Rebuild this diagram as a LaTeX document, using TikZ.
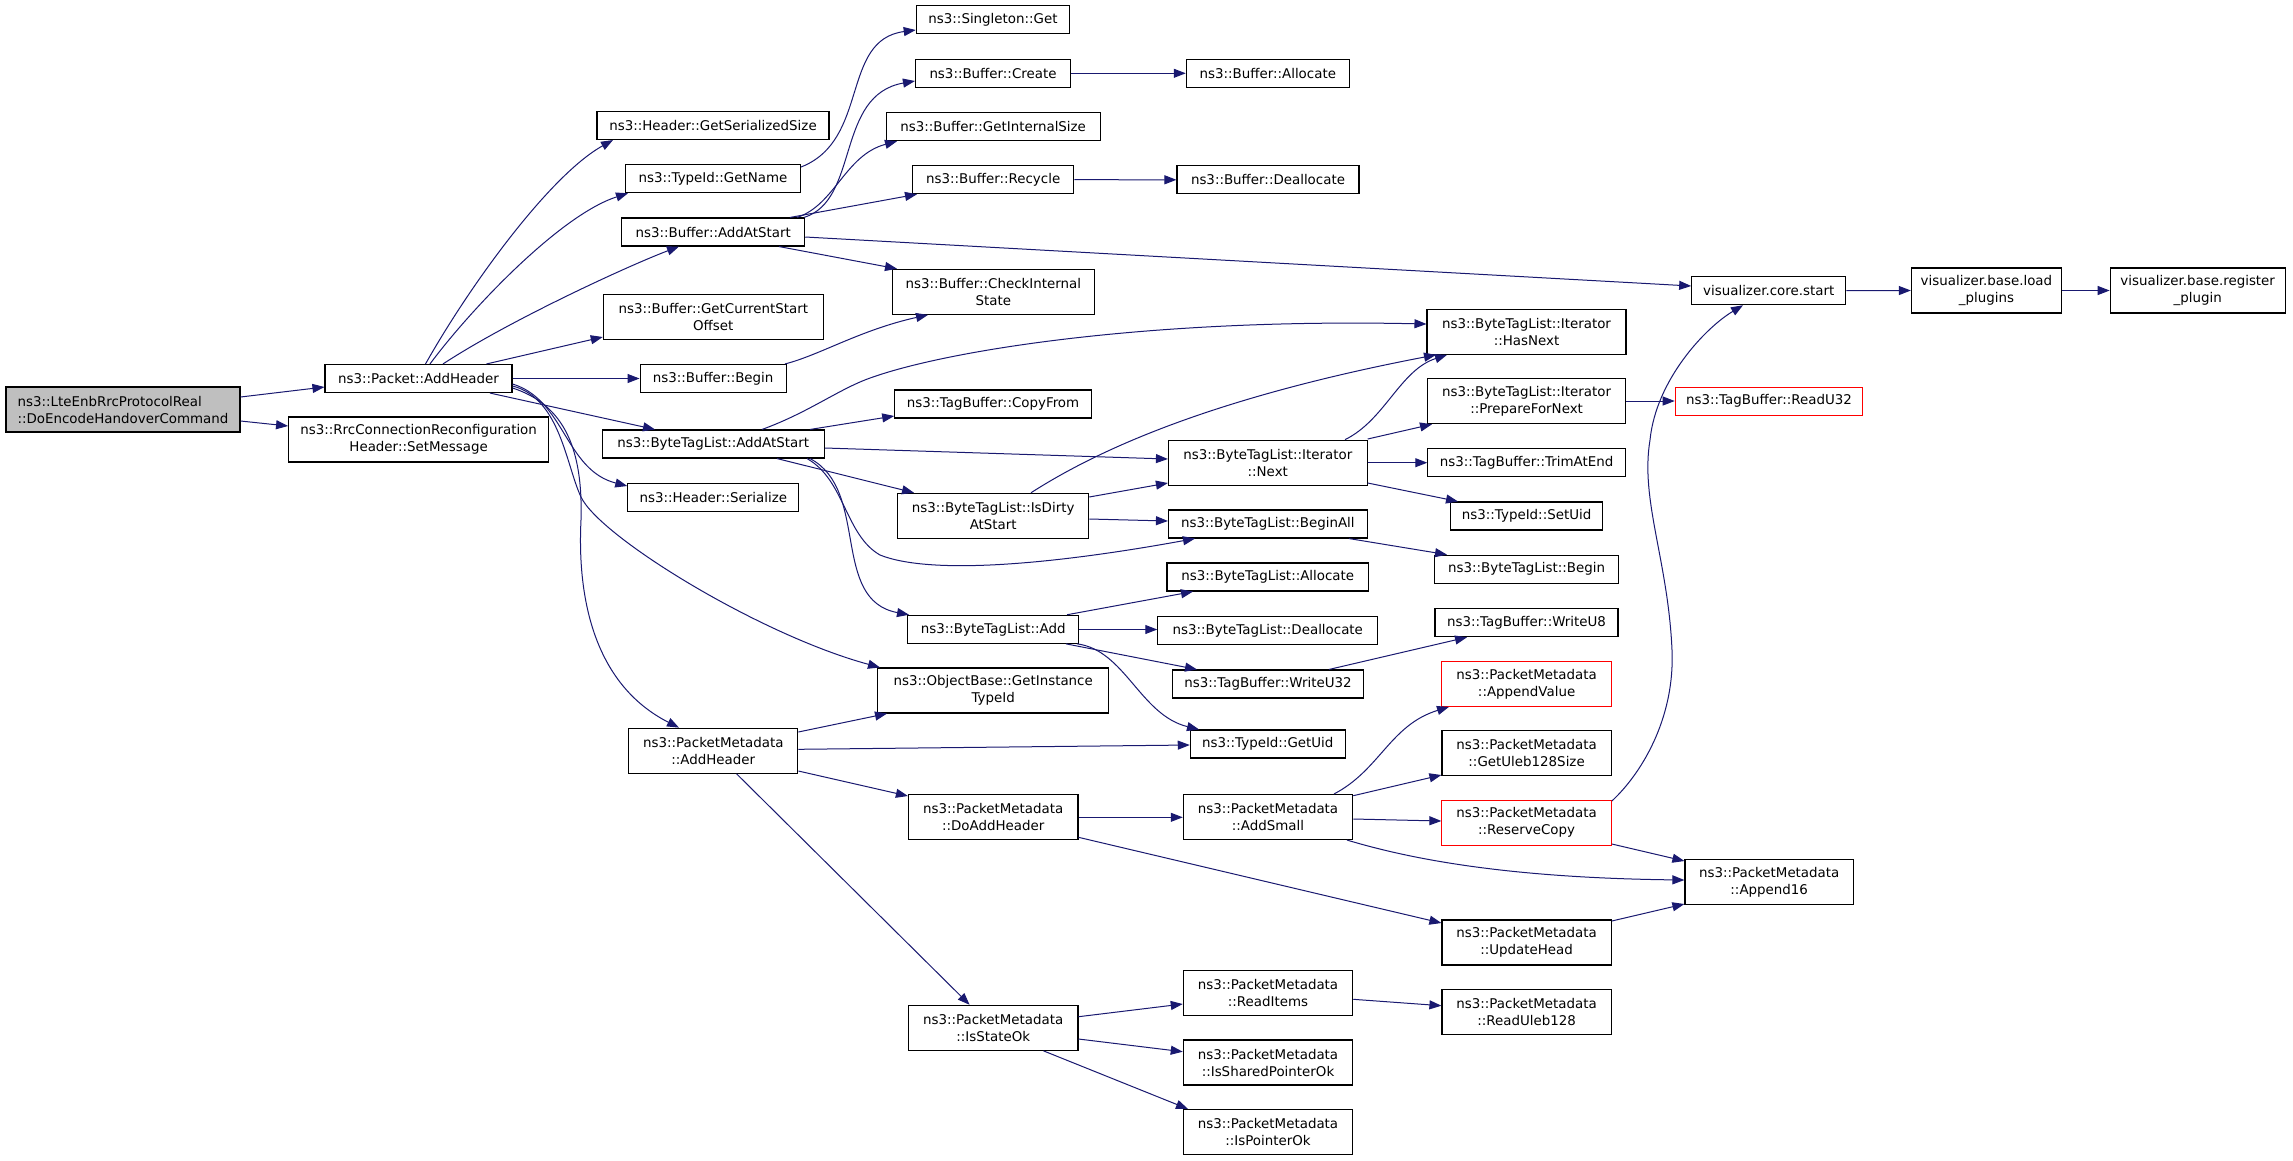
\documentclass[tikz,border=0pt]{standalone}
\usepackage{fontspec}
\setmainfont{DejaVu Sans}
\usetikzlibrary{arrows.meta}
\newcommand\gfs{\fontsize{13.4}{17}\selectfont}
\definecolor{edgeblue}{HTML}{191970}
\definecolor{maingray}{HTML}{BFBFBF}
\begin{document}
\begin{tikzpicture}[x=1pt,y=-1pt,
  box/.style={draw=black,line width=1.1pt,fill=white,inner sep=0pt,align=center,font=\gfs},
  redbox/.style={box,draw=red},
  sz/.style 2 args={minimum width=#1pt,minimum height=#2pt},
  edge/.style={draw=edgeblue,line width=1pt,-{Triangle[length=12pt,width=9pt]}}]
\fill[white] (0,0) rectangle (2293,1160);
\useasboundingbox (0,0) rectangle (2293,1160);
% column 1-2
\node[box,fill=maingray,align=left,sz={234}{45}] (main) at (123,409.5) {ns3::LteEnbRrcProtocolReal\\::DoEncodeHandoverCommand};
\node[box,sz={187}{28}] (pAH) at (418.5,378.5) {ns3::Packet::AddHeader};
\node[box,sz={260}{45}] (rrc) at (418.6,439.5) {ns3::RrcConnectionReconfiguration\\Header::SetMessage};
% column 3
\node[box,sz={232}{28}] (gss) at (713,125.5) {ns3::Header::GetSerializedSize};
\node[box,sz={175}{28}] (gn) at (713,178.7) {ns3::TypeId::GetName};
\node[box,sz={183}{28}] (baas) at (713.2,232) {ns3::Buffer::AddAtStart};
\node[box,sz={220}{45}] (gcso) at (713.3,317.3) {ns3::Buffer::GetCurrentStart\\Offset};
\node[box,sz={146}{28}] (bbeg) at (713.1,378.5) {ns3::Buffer::Begin};
\node[box,sz={222}{28}] (btaas) at (713.3,444) {ns3::ByteTagList::AddAtStart};
\node[box,sz={171}{28}] (hser) at (713.3,497.3) {ns3::Header::Serialize};
\node[box,sz={169}{45}] (pmah) at (713.3,750.7) {ns3::PacketMetadata\\::AddHeader};
% column 4
\node[box,sz={153.5}{28}] (sg) at (993,19.8) {ns3::Singleton::Get};
\node[box,sz={155}{28}] (bcr) at (993,73.3) {ns3::Buffer::Create};
\node[box,sz={214}{28}] (bgis) at (993.2,126.7) {ns3::Buffer::GetInternalSize};
\node[box,sz={161}{28}] (brec) at (993.2,179.7) {ns3::Buffer::Recycle};
\node[box,sz={201.6}{45}] (bcis) at (993.4,291.8) {ns3::Buffer::CheckInternal\\State};
\node[box,sz={196.5}{28}] (cpf) at (993,404) {ns3::TagBuffer::CopyFrom};
\node[box,sz={191}{45}] (dirty) at (993.2,515.8) {ns3::ByteTagList::IsDirty\\AtStart};
\node[box,sz={171}{28}] (btadd) at (993.2,629.3) {ns3::ByteTagList::Add};
\node[box,sz={231}{45}] (obgit) at (993.2,690.5) {ns3::ObjectBase::GetInstance\\TypeId};
\node[box,sz={169.5}{45}] (doadd) at (993.2,817) {ns3::PacketMetadata\\::DoAddHeader};
\node[box,sz={169.5}{45}] (isok) at (993.2,1027.8) {ns3::PacketMetadata\\::IsStateOk};
% column 5
\node[box,sz={163}{28}] (balloc) at (1267.8,73.3) {ns3::Buffer::Allocate};
\node[box,sz={182}{28}] (bdealloc) at (1268,179.8) {ns3::Buffer::Deallocate};
\node[box,sz={198.7}{45}] (next) at (1267.8,462.7) {ns3::ByteTagList::Iterator\\::Next};
\node[box,sz={198.7}{28}] (beginall) at (1267.8,524) {ns3::ByteTagList::BeginAll};
\node[box,sz={201.6}{28}] (btalloc) at (1267.8,577) {ns3::ByteTagList::Allocate};
\node[box,sz={220}{28}] (btdealloc) at (1267.8,630.7) {ns3::ByteTagList::Deallocate};
\node[box,sz={191}{28}] (wu32) at (1268,684) {ns3::TagBuffer::WriteU32};
\node[box,sz={155}{28}] (getuid) at (1267.8,744) {ns3::TypeId::GetUid};
\node[box,sz={169.4}{45}] (addsmall) at (1268,817) {ns3::PacketMetadata\\::AddSmall};
\node[box,sz={169.4}{45}] (readitems) at (1268,993.3) {ns3::PacketMetadata\\::ReadItems};
\node[box,sz={169.4}{45}] (isshared) at (1268,1062.5) {ns3::PacketMetadata\\::IsSharedPointerOk};
\node[box,sz={169.4}{45}] (isptr) at (1268,1132) {ns3::PacketMetadata\\::IsPointerOk};
% column 6
\node[box,sz={199}{45}] (hasnext) at (1526.5,331.8) {ns3::ByteTagList::Iterator\\::HasNext};
\node[box,sz={198.3}{45}] (prep) at (1526.6,401.2) {ns3::ByteTagList::Iterator\\::PrepareForNext};
\node[box,sz={197.6}{28}] (trim) at (1526.6,462.7) {ns3::TagBuffer::TrimAtEnd};
\node[box,sz={151.6}{28}] (setuid) at (1526.6,516) {ns3::TypeId::SetUid};
\node[box,sz={184}{28}] (btbegin) at (1526.6,569.2) {ns3::ByteTagList::Begin};
\node[box,sz={183}{28}] (wu8) at (1526.5,622.7) {ns3::TagBuffer::WriteU8};
\node[redbox,sz={169.4}{45}] (appv) at (1526.6,683.8) {ns3::PacketMetadata\\::AppendValue};
\node[box,sz={169.3}{45}] (uleb) at (1526.6,753.2) {ns3::PacketMetadata\\::GetUleb128Size};
\node[redbox,sz={169.4}{45}] (reserve) at (1526.6,822.7) {ns3::PacketMetadata\\::ReserveCopy};
\node[box,sz={169.3}{45}] (updh) at (1526.6,942.5) {ns3::PacketMetadata\\::UpdateHead};
\node[box,sz={169.3}{45}] (readuleb) at (1526.6,1011.7) {ns3::PacketMetadata\\::ReadUleb128};
% column 7+
\node[box,sz={154}{28}] (vcs) at (1768.7,290.7) {visualizer.core.start};
\node[redbox,sz={187.5}{28}] (ru32) at (1769,401.2) {ns3::TagBuffer::ReadU32};
\node[box,sz={168.5}{45}] (app16) at (1769.2,882.2) {ns3::PacketMetadata\\::Append16};
\node[box,sz={150}{45}] (vlp) at (1986.4,290.5) {visualizer.base.load\\\_plugins};
\node[box,sz={175}{45}] (vrp) at (2197.7,290.5) {visualizer.base.register\\\_plugin};
% edges
\draw[edge] (main.east|-0,397) -- (pAH.west|-0,387);
\draw[edge] (main.east|-0,421) -- (rrc.west|-0,426);
\draw[edge] (pAH.north-|425.5,0) .. controls (470,285) and (550,175) .. (gss.south-|613,0);
\draw[edge] (pAH.north-|430,0) .. controls (470,310) and (560,215) .. (gn.south-|628,0);
\draw[edge] (pAH.north-|443,0) .. controls (510,320) and (630,265) .. (baas.south-|679,0);
\draw[edge] (pAH.north-|486.5,0) -- (gcso.west|-0,337);
\draw[edge] (pAH.east) -- (bbeg.west);
\draw[edge] (pAH.south-|490,0) -- (btaas.north-|655,0);
\draw[edge] (pAH.east|-0,384) .. controls (565,400) and (565,470) .. (hser.west|-0,486);
\draw[edge] (pAH.east|-0,386) .. controls (560,398) and (566,465) .. (581,497) .. controls (600,537) and (760,635) .. (obgit.north-|880,0);
\draw[edge] (pAH.east|-0,388) .. controls (565,405) and (583,450) .. (581,520) .. controls (577,600) and (595,685) .. (pmah.north-|679,0);
\draw[edge] (gn.east|-0,167) .. controls (870,140) and (840,40) .. (sg.west|-0,30);
\draw[edge] (baas.north-|804,0) .. controls (860,200) and (835,95) .. (bcr.west|-0,81);
\draw[edge] (baas.north-|797,0) .. controls (835,205) and (845,155) .. (bgis.south-|897,0);
\draw[edge] (baas.north-|790,0) -- (brec.south-|917,0);
\draw[edge] (baas.east|-0,237) -- (vcs.west|-0,286);
\draw[edge] (baas.south-|779,0) -- (bcis.north-|897,0);
\draw[edge] (bbeg.north-|785,0) .. controls (820,355) and (860,330) .. (bcis.south-|928,0);
\draw[edge] (bcr.east) -- (balloc.west);
\draw[edge] (brec.east) -- (bdealloc.west);
\draw[edge] (vcs.east) -- (vlp.west);
\draw[edge] (vlp.east) -- (vrp.west);
\draw[edge] (btaas.north-|762,0) .. controls (810,412) and (840,388) .. (873,377) .. controls (950,350) and (1150,318) .. (hasnext.west|-0,324);
\draw[edge] (btaas.north-|810,0) -- (cpf.west|-0,416);
\draw[edge] (btaas.east|-0,448) -- (next.west|-0,459);
\draw[edge] (btaas.south-|777,0) -- (dirty.north-|914,0);
\draw[edge] (btaas.south-|807,0) .. controls (845,480) and (845,535) .. (880,555) .. controls (930,575) and (1050,565) .. (beginall.south-|1195,0);
\draw[edge] (btaas.south-|810,0) .. controls (870,490) and (830,600) .. (btadd.north-|909,0);
\draw[edge] (dirty.north-|1031,0) .. controls (1090,455) and (1200,400) .. (hasnext.south-|1436,0);
\draw[edge] (next.north-|1345,0) .. controls (1385,420) and (1400,370) .. (hasnext.south-|1447,0);
\draw[edge] (dirty.east|-0,497) -- (next.west|-0,483);
\draw[edge] (dirty.east|-0,519) -- (beginall.west|-0,521);
\draw[edge] (next.east|-0,439) -- (prep.south-|1432,0);
\draw[edge] (next.east|-0,462.7) -- (trim.west);
\draw[edge] (next.east|-0,483) -- (setuid.north-|1458,0);
\draw[edge] (prep.east|-0,401) -- (ru32.west|-0,401);
\draw[edge] (beginall.south-|1349,0) -- (btbegin.north-|1447,0);
\draw[edge] (btadd.north-|1067,0) -- (btalloc.south-|1193,0);
\draw[edge] (btadd.east|-0,629.5) -- (btdealloc.west|-0,629.5);
\draw[edge] (btadd.south-|1066,0) -- (wu32.north-|1197,0);
\draw[edge] (btadd.south-|1077,0) .. controls (1125,650) and (1140,715) .. (getuid.north-|1199,0);
\draw[edge] (wu32.north-|1329,0) -- (wu8.south-|1467,0);
\draw[edge] (pmah.east|-0,732) -- (obgit.south-|887,0);
\draw[edge] (pmah.east|-0,749.3) -- (getuid.west|-0,745);
\draw[edge] (pmah.east|-0,771) -- (doadd.west|-0,796);
\draw[edge] (pmah.south-|736.5,0) -- (isok.north-|969.6,0);
\draw[edge] (doadd.east|-0,817.3) -- (addsmall.west|-0,817.3);
\draw[edge] (doadd.east|-0,837.3) -- (updh.west|-0,923);
\draw[edge] (addsmall.north-|1334,0) .. controls (1380,770) and (1390,725) .. (appv.south-|1449,0);
\draw[edge] (addsmall.east|-0,795.7) -- (uleb.west|-0,775);
\draw[edge] (addsmall.east|-0,819) -- (reserve.west|-0,821);
\draw[edge] (addsmall.south-|1347,0) .. controls (1420,862) and (1520,878) .. (app16.west|-0,880);
\draw[edge] (reserve.east|-0,844) -- (app16.west|-0,861);
\draw[edge] (reserve.east|-0,801) .. controls (1640,775) and (1675,720) .. (1672,650) .. controls (1668,560) and (1640,500) .. (1650,440) .. controls (1656,380) and (1705,328) .. (vcs.south-|1743,0);
\draw[edge] (updh.east|-0,921) -- (app16.west|-0,904);
\draw[edge] (isok.east|-0,1016.7) -- (readitems.west|-0,1004);
\draw[edge] (isok.east|-0,1039) -- (isshared.west|-0,1051.7);
\draw[edge] (isok.south-|1043.5,0) -- (isptr.north-|1188,0);
\draw[edge] (readitems.east|-0,999.3) -- (readuleb.west|-0,1005.7);
\end{tikzpicture}
\end{document}
